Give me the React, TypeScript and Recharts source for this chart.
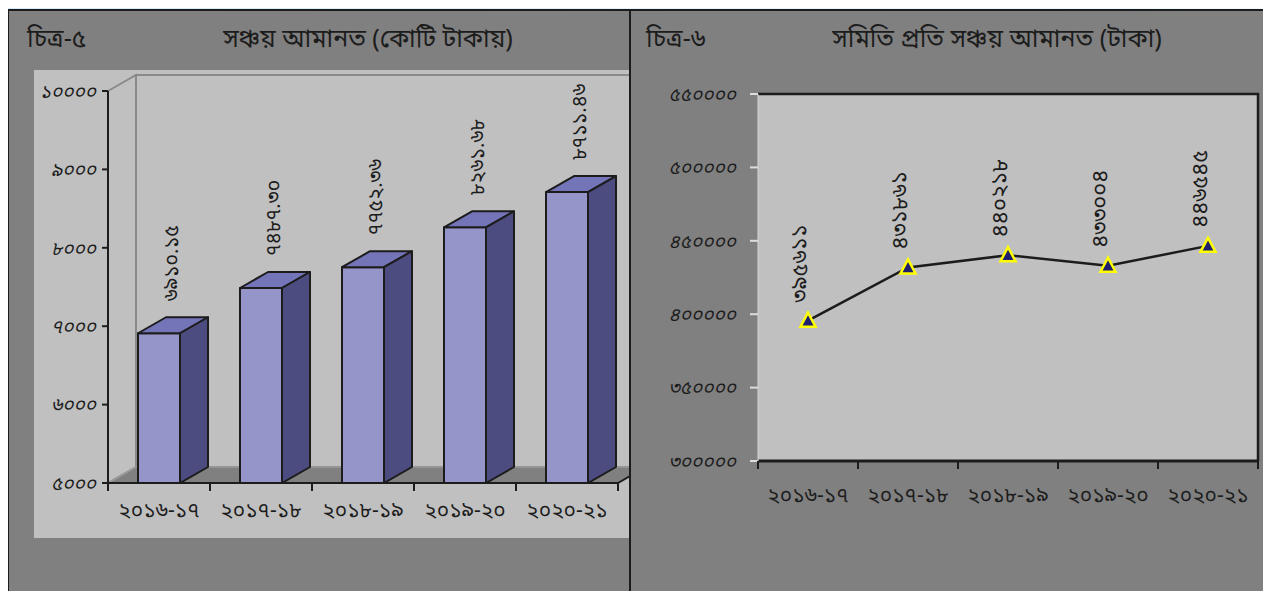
import React from 'react';
import { BarChart, Bar, LineChart, Line, XAxis, YAxis, CartesianGrid, LabelList, Customized } from 'recharts';

// ---------- data ----------
const CATEGORIES = ['২০১৬-১৭', '২০১৭-১৮', '২০১৮-১৯', '২০১৯-২০', '২০২০-২১'];
const SAVINGS_CRORE = [6910.15, 7487.30, 7752.36, 8261.68, 8711.46];
const PER_SAMITY_TAKA = [395611, 431861, 440218, 433004, 446545];
const LEFT_TICKS = [5000, 6000, 7000, 8000, 9000, 10000];
const RIGHT_TICKS = [300000, 350000, 400000, 450000, 500000, 550000];
const LEFT_TITLE_NO = 'চিত্র-৫';
const LEFT_TITLE = 'সঞ্চয় আমানত (কোটি টাকায়)';
const RIGHT_TITLE_NO = 'চিত্র-৬';
const RIGHT_TITLE = 'সমিতি প্রতি সঞ্চয় আমানত (টাকা)';

const leftData = CATEGORIES.map((c, i) => ({ cat: c, v: SAVINGS_CRORE[i] }));
const rightData = CATEGORIES.map((c, i) => ({ cat: c, v: PER_SAMITY_TAKA[i] }));

const BN = '০১২৩৪৫৬৭৮৯';
const toBn = (s: string | number) => String(s).replace(/[0-9]/g, (d) => BN[+d]);

const FONT = '"Noto Sans Bengali", "Noto Serif Bengali", "Lohit Bengali", "FreeSerif", "Noto Sans", sans-serif';
const INK = '#1c1c1c';

// ---------- left chart geometry ----------
const L_W = 596, L_H = 468, L_TOP = 21, L_YW = 74, L_RIGHT = 12, L_XH = 55;
const LX0 = L_YW, LX1 = L_W - L_RIGHT, LY0 = L_TOP, LY1 = L_H - L_XH;
const DX = 28, DY = 16;
const L_BAND = (LX1 - LX0) / CATEGORIES.length;

// ---------- right chart geometry ----------
const R_W = 631, R_H = 470, R_TOP = 34, R_YW = 118, R_RIGHT = 13, R_XH = 69;
const RX0 = R_YW, RX1 = R_W - R_RIGHT, RY0 = R_TOP, RY1 = R_H - R_XH;
const R_BAND = (RX1 - RX0) / CATEGORIES.length;

const Walls = () => (
  <g>
    <polygon points={`${LX0},${LY0} ${LX0 + DX},${LY0 - DY} ${LX0 + DX},${LY1 - DY} ${LX0},${LY1}`} fill="#c0c0c0" stroke="#8a8a8a" strokeWidth={2} />
    <polygon points={`${LX0 + DX},${LY0 - DY} ${LX1 + DX + 40},${LY0 - DY} ${LX1 + DX + 40},${LY1 - DY} ${LX0 + DX},${LY1 - DY}`} fill="#c0c0c0" stroke="#8a8a8a" strokeWidth={2} />
    <polygon points={`${LX0},${LY1} ${LX0 + DX},${LY1 - DY} ${LX1 + DX},${LY1 - DY} ${LX1},${LY1}`} fill="#808080" stroke="#9a9a9a" strokeWidth={1.5} />
    <line x1={LX1} y1={LY1} x2={LX1 + DX} y2={LY1 - DY} stroke={INK} strokeWidth={2} />
  </g>
);

const PlotFrame = () => (
  <g>
    <polyline points={`${RX0},${RY0} ${RX1},${RY0} ${RX1},${RY1}`} fill="none" stroke={INK} strokeWidth={2.5} />
  </g>
);

const Bar3D = (props: any) => {
  const { x, y, width, height } = props;
  if (height == null || width == null) return null;
  return (
    <g strokeLinejoin="round">
      <rect x={x} y={y} width={width} height={height} fill="#9595c9" stroke={INK} strokeWidth={2} />
      <polygon points={`${x},${y} ${x + width},${y} ${x + width + DX},${y - DY} ${x + DX},${y - DY}`} fill="#7474b8" stroke={INK} strokeWidth={2} />
      <polygon points={`${x + width},${y} ${x + width + DX},${y - DY} ${x + width + DX},${y + height - DY} ${x + width},${y + height}`} fill="#4c4c80" stroke={INK} strokeWidth={2} />
    </g>
  );
};

const BarLabel = (props: any) => {
  const { x, y, width, value } = props;
  const cx = x + width / 2 + DX / 2;
  const by = y - DY - 16;
  return (
    <text x={cx} y={by} transform={`rotate(-90 ${cx} ${by})`} textAnchor="start" dominantBaseline="central" fontSize={20} fill={INK} fontFamily={FONT}>
      {toBn(Number(value).toFixed(2))}
    </text>
  );
};

const makeCatTick = (band: number, dyText: number) => (props: any) => {
  const { x, y, payload, index } = props;
  const last = index === CATEGORIES.length - 1;
  return (
    <g>
      <line x1={x - band / 2} y1={y - 8} x2={x - band / 2} y2={y} stroke={INK} strokeWidth={2} />
      {last && <line x1={x + band / 2} y1={y - 8} x2={x + band / 2} y2={y} stroke={INK} strokeWidth={2} />}
      <text x={x} y={y + dyText} textAnchor="middle" dominantBaseline="central" fontSize={21} fill={INK} fontFamily={FONT}>
        {payload.value}
      </text>
    </g>
  );
};

const Tri = (props: any) => {
  const { cx, cy } = props;
  if (cx == null || cy == null) return null;
  return <polygon points={`${cx},${cy - 8} ${cx - 7.5},${cy + 6} ${cx + 7.5},${cy + 6}`} fill="#1f1f6e" stroke="#ffff00" strokeWidth={2.5} strokeLinejoin="miter" />;
};

const PointLabel = (props: any) => {
  const { x, y, value } = props;
  const cx = x - 6;
  const by = y - 18;
  return (
    <text x={cx} y={by} transform={`rotate(-90 ${cx} ${by})`} textAnchor="start" dominantBaseline="central" fontSize={22} fill={INK} fontFamily={FONT}>
      {toBn(value)}
    </text>
  );
};

const titleStyle: React.CSSProperties = { position: 'absolute', fontFamily: FONT, fontSize: 25, color: INK, whiteSpace: 'nowrap', lineHeight: 1 };

export default function App() {
  return (
    <div style={{ position: 'relative', margin: -8, width: 1271, height: 599, overflow: 'hidden', background: 'linear-gradient(100deg, #d3ebf8 0%, #e4f2fb 50%, #f2f8fc 100%)' }}>
      <div style={{ position: 'absolute', left: 7, top: 9, right: 0, bottom: 0, background: '#808080', borderLeft: `2px solid ${INK}`, borderTop: `2px solid ${INK}` }} />
      <div style={{ position: 'absolute', left: 629, top: 10, width: 2, height: 589, background: INK }} />

      <div style={{ ...titleStyle, left: 27, top: 28 }}>{LEFT_TITLE_NO}</div>
      <div style={{ ...titleStyle, left: 368, top: 28, transform: 'translateX(-50%)' }}>{LEFT_TITLE}</div>
      <div style={{ ...titleStyle, left: 646, top: 28 }}>{RIGHT_TITLE_NO}</div>
      <div style={{ ...titleStyle, left: 997, top: 28, transform: 'translateX(-50%)' }}>{RIGHT_TITLE}</div>

      <div style={{ position: 'absolute', left: 34, top: 70, width: L_W - 1, height: L_H, background: '#c0c0c0', overflow: 'hidden' }}>
        <BarChart width={L_W} height={L_H} data={leftData} margin={{ top: L_TOP, right: L_RIGHT, left: 0, bottom: 0 }} barSize={42}>
          <Customized component={<Walls />} />
          <XAxis dataKey="cat" height={L_XH} tickLine={false} axisLine={{ stroke: INK, strokeWidth: 2 }} tick={makeCatTick(L_BAND, 21)} interval={0} />
          <YAxis width={L_YW} domain={[5000, 10000]} ticks={LEFT_TICKS} allowDataOverflow tickFormatter={(v: number) => toBn(v)} axisLine={{ stroke: INK, strokeWidth: 2 }} tickLine={{ stroke: INK, strokeWidth: 2 }} tickSize={6} tickMargin={6} tick={{ fill: INK, fontSize: 19, fontStyle: 'italic', fontFamily: FONT }} />
          <Bar dataKey="v" shape={<Bar3D />} isAnimationActive={false}>
            <LabelList dataKey="v" content={<BarLabel />} />
          </Bar>
        </BarChart>
      </div>

      <div style={{ position: 'absolute', left: 640, top: 60, width: R_W, height: R_H }}>
        <LineChart width={R_W} height={R_H} data={rightData} margin={{ top: R_TOP, right: R_RIGHT, left: 0, bottom: 0 }}>
          <CartesianGrid fill="#c0c0c0" horizontal={false} vertical={false} />
          <Customized component={<PlotFrame />} />
          <XAxis dataKey="cat" scale="band" height={R_XH} tickLine={false} axisLine={{ stroke: INK, strokeWidth: 3 }} tick={makeCatTick(R_BAND, 28)} interval={0} />
          <YAxis width={R_YW} domain={[300000, 550000]} ticks={RIGHT_TICKS} tickFormatter={(v: number) => toBn(v)} axisLine={{ stroke: '#d4d4d4', strokeWidth: 1 }} tickLine={{ stroke: '#dcdcdc', strokeWidth: 2 }} tickSize={8} tickMargin={14} tick={{ fill: INK, fontSize: 19, fontStyle: 'italic', fontFamily: FONT }} />
          <Line dataKey="v" stroke={INK} strokeWidth={2.5} dot={<Tri />} activeDot={false} isAnimationActive={false}>
            <LabelList dataKey="v" content={<PointLabel />} />
          </Line>
        </LineChart>
      </div>
    </div>
  );
}
